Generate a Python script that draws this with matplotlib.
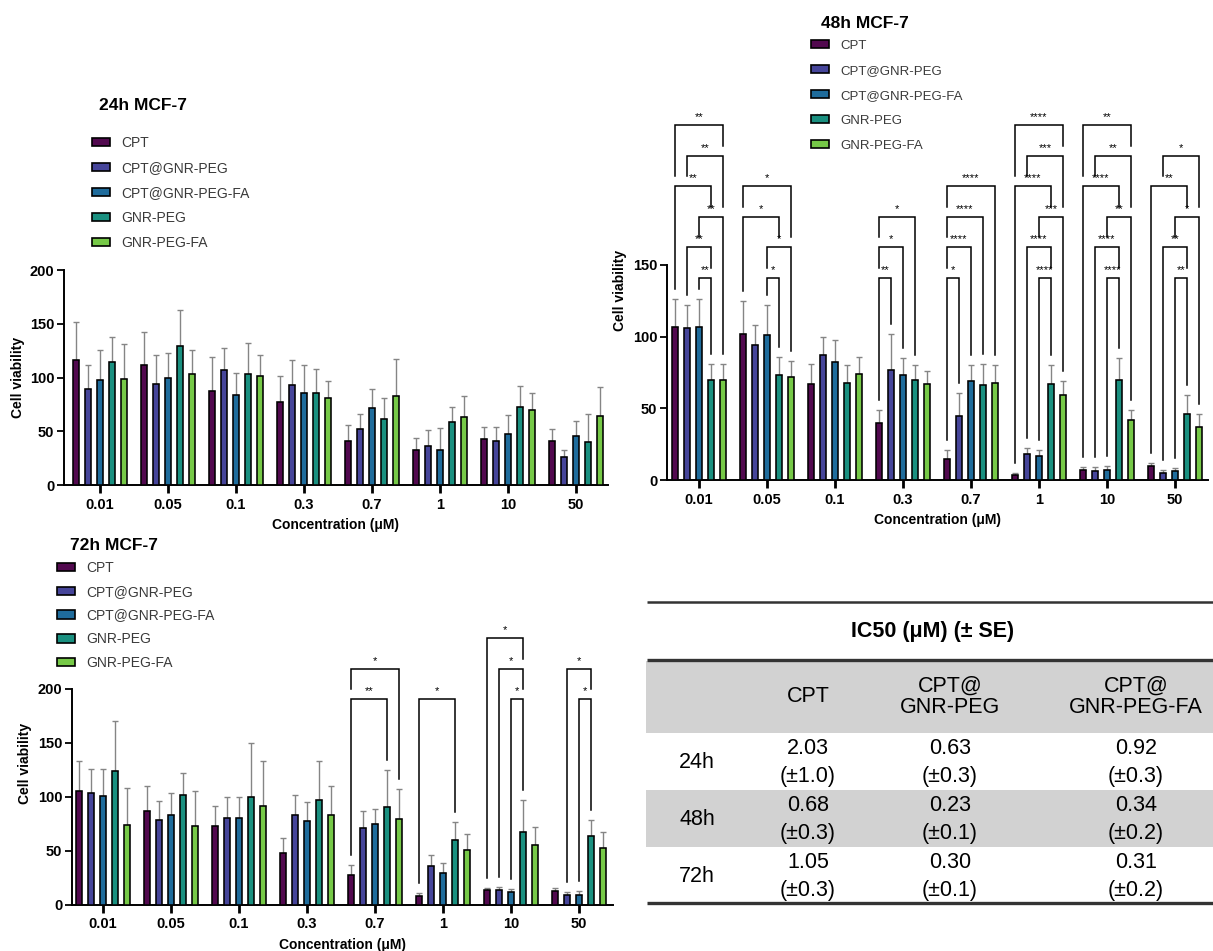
import numpy as np
import matplotlib
matplotlib.use("Agg")
import matplotlib.pyplot as plt
from matplotlib.patches import Patch, Rectangle

# ---------------- data ----------------
concentrations = ['0.01', '0.05', '0.1', '0.3', '0.7', '1', '10', '50']
series = ['CPT', 'CPT@GNR-PEG', 'CPT@GNR-PEG-FA', 'GNR-PEG', 'GNR-PEG-FA']
colors = ['#52094f', '#46459a', '#1f6c9c', '#1a9080', '#76c947']

# 24 h  (mean, SD)
m24_cpt = [116, 112, 87, 77, 41, 33, 43, 41]
s24_cpt = [36, 30, 32, 24, 15, 11, 11, 11]
m24_peg = [89, 94, 107, 93, 52, 36, 41, 26]
s24_peg = [23, 27, 20, 23, 14, 15, 13, 7]
m24_pegfa = [98, 100, 84, 86, 72, 33, 47, 46]
s24_pegfa = [28, 23, 20, 26, 17, 20, 18, 14]
m24_gnr = [114, 129, 103, 86, 61, 59, 73, 40]
s24_gnr = [24, 34, 29, 22, 20, 14, 19, 26]
m24_gnrfa = [99, 103, 101, 81, 83, 63, 70, 64]
s24_gnrfa = [32, 23, 20, 16, 34, 20, 16, 27]

# 48 h
m48_cpt = [107, 102, 67, 40, 15, 3.5, 7, 10]
s48_cpt = [19, 23, 14, 9, 6, 1.5, 2, 2]
m48_peg = [106, 94, 87, 77, 45, 18, 6.5, 5]
s48_peg = [16, 14, 13, 25, 16, 4, 2.5, 2]
m48_pegfa = [107, 101, 82, 73, 69, 17, 7, 6]
s48_pegfa = [19, 21, 16, 12, 11, 4, 2.5, 2.5]
m48_gnr = [70, 73, 68, 70, 66, 67, 70, 46]
s48_gnr = [11, 13, 12, 10, 15, 13, 15, 13]
m48_gnrfa = [70, 72, 74, 67, 68, 59, 42, 37]
s48_gnrfa = [11, 11, 12, 9, 12, 10, 7, 9]

# 72 h
m72_cpt = [106, 87, 73, 48, 28, 8, 14, 13]
s72_cpt = [27, 23, 19, 14, 9, 3, 2, 3]
m72_peg = [104, 79, 81, 83, 71, 36, 14, 9.5]
s72_peg = [22, 17, 19, 19, 16, 10, 3, 3]
m72_pegfa = [101, 83, 81, 78, 75, 30, 12, 9.5]
s72_pegfa = [25, 21, 19, 17, 14, 9, 2.5, 3.5]
m72_gnr = [124, 102, 100, 97, 91, 60, 68, 64]
s72_gnr = [46, 20, 50, 36, 34, 17, 29.5, 15]
m72_gnrfa = [74, 73, 92, 83, 80, 51, 56, 53]
s72_gnrfa = [34, 33, 41, 27, 27, 15, 16, 14.5]

# significance brackets: (concentration index, bar a, bar b, stacking level, label)
sig48 = [
    (0, 0, 4, 6, '**'), (0, 1, 4, 5, '**'), (0, 0, 3, 4, '**'),
    (0, 2, 4, 3, '**'), (0, 1, 3, 2, '**'), (0, 2, 3, 1, '**'),
    (1, 0, 4, 4, '*'), (1, 0, 3, 3, '*'), (1, 2, 4, 2, '*'), (1, 2, 3, 1, '*'),
    (3, 0, 3, 3, '*'), (3, 0, 2, 2, '*'), (3, 0, 1, 1, '**'),
    (4, 0, 4, 4, '****'), (4, 0, 3, 3, '****'), (4, 0, 2, 2, '****'), (4, 0, 1, 1, '*'),
    (5, 0, 4, 6, '****'), (5, 1, 4, 5, '***'), (5, 0, 3, 4, '****'),
    (5, 2, 4, 3, '***'), (5, 1, 3, 2, '****'), (5, 2, 3, 1, '****'),
    (6, 0, 4, 6, '**'), (6, 1, 4, 5, '**'), (6, 0, 3, 4, '****'),
    (6, 2, 4, 3, '**'), (6, 1, 3, 2, '****'), (6, 2, 3, 1, '****'),
    (7, 1, 4, 5, '*'), (7, 0, 3, 4, '**'), (7, 2, 4, 3, '*'),
    (7, 1, 3, 2, '**'), (7, 2, 3, 1, '**'),
]
sig72 = [
    (4, 0, 4, 2, '*'), (4, 0, 3, 1, '**'),
    (5, 0, 3, 1, '*'),
    (6, 0, 3, 3, '*'), (6, 1, 3, 2, '*'), (6, 2, 3, 1, '*'),
    (7, 1, 3, 2, '*'), (7, 2, 3, 1, '*'),
]

# IC50 table
ic50_rows = ['24h', '48h', '72h']
ic50_cols = ['CPT', 'CPT@\nGNR-PEG', 'CPT@\nGNR-PEG-FA']
ic50_cpt = [2.03, 0.68, 1.05]
se_cpt = [1.0, 0.3, 0.3]
ic50_peg = [0.63, 0.23, 0.30]
se_peg = [0.3, 0.1, 0.1]
ic50_pegfa = [0.92, 0.34, 0.31]
se_pegfa = [0.3, 0.2, 0.2]

# ---------------- drawing ----------------
W, H = 1213, 951
plt.rcParams['font.family'] = ['Liberation Sans', 'DejaVu Sans']
fig = plt.figure(figsize=(W / 100, H / 100), dpi=100)

GROUP_PX = 68.0
PITCH = 12.0 / GROUP_PX
BAR_W = 6.8 / GROUP_PX


def px_axes(left, top, right, bottom):
    return fig.add_axes([left / W, 1 - bottom / H, (right - left) / W, (bottom - top) / H])


def draw_panel(ax, means, sds, ymax_axis, ytop, xlim, yticks, ylabelpad):
    x = np.arange(len(concentrations))
    for k, (m, s) in enumerate(zip(means, sds)):
        xs = x + (k - 2) * PITCH
        ax.bar(xs, m, width=BAR_W, color=colors[k], edgecolor='black', linewidth=1.15, zorder=3)
        ax.errorbar(xs, m, yerr=[np.zeros(len(s)), s], fmt='none', ecolor='#858585',
                    elinewidth=1.0, capsize=2.0, capthick=1.0, zorder=2)
    ax.set_xlim(*xlim)
    ax.set_ylim(0, ytop)
    ax.set_xticks(x)
    ax.set_xticklabels(concentrations, fontweight='bold', fontsize=10.5)
    ax.set_yticks(yticks)
    ax.set_yticklabels([str(t) for t in yticks], fontweight='bold', fontsize=10.5)
    for sp in ['top', 'right']:
        ax.spines[sp].set_visible(False)
    ax.spines['left'].set_bounds(0, ymax_axis)
    ax.spines['left'].set_linewidth(1.4)
    ax.spines['bottom'].set_linewidth(1.4)
    ax.tick_params(axis='x', length=6, width=2.0, pad=3)
    ax.tick_params(axis='y', length=5, width=1.3, pad=2)
    ax.set_xlabel('Concentration (\u03bcM)', fontweight='bold', fontsize=10, labelpad=5)
    ax.set_ylabel('Cell viability', fontweight='bold', fontsize=10, labelpad=ylabelpad)
    ax.patch.set_alpha(0)


def draw_sig(ax, sig, means, sds, base, step, px_per_unit):
    gap = 10.0 / px_per_unit
    tops = [np.array(m) + np.array(s) for m, s in zip(means, sds)]
    for (g, a, b, lev, lab) in sig:
        y = base + (lev - 1) * step
        xa = g + (a - 2) * PITCH
        xb = g + (b - 2) * PITCH
        legs = []
        for k in (a, b):
            lower = [base + (l2 - 1) * step for (g2, a2, b2, l2, _) in sig
                     if g2 == g and l2 < lev and a2 <= k <= b2]
            if lower:
                bot = max(lower) + gap
            else:
                bot = tops[k][g] + gap
            legs.append(bot)
        ax.plot([xa, xa, xb, xb], [legs[0], y, y, legs[1]], color='black', lw=1.1,
                solid_joinstyle='miter', zorder=4, clip_on=False)
        ax.text((xa + xb) / 2, y + 3.0 / px_per_unit, lab, ha='center', va='bottom',
                fontsize=8, color='black')


def legend_at(x_left, y_first, fs, spacing_px, text_h):
    handles = [Patch(facecolor=c, edgecolor='black', linewidth=1.2) for c in colors]
    fs_px = fs * 100 / 72
    fig.legend(handles, series, loc='upper left',
               bbox_to_anchor=(x_left / W, 1 - (y_first - 0.45 * fs_px) / H),
               frameon=False, fontsize=fs, borderpad=0, borderaxespad=0,
               handlelength=18 / fs_px, handleheight=0.55, handletextpad=11 / fs_px,
               labelspacing=(spacing_px - text_h * fs_px) / fs_px, labelcolor='#3a3a3a')


# 24h
ax24 = px_axes(64, 270, 608, 485)
means24 = [m24_cpt, m24_peg, m24_pegfa, m24_gnr, m24_gnrfa]
sds24 = [s24_cpt, s24_peg, s24_pegfa, s24_gnr, s24_gnrfa]
draw_panel(ax24, means24, sds24, 200, 200, ((64 - 100) / 68, (608 - 100) / 68),
           [0, 50, 100, 150, 200], 3)
fig.text(99 / W, 1 - 106 / H, '24h MCF-7', fontweight='bold', fontsize=12.5, va='center', ha='left')
legend_at(92, 142, 10, 25, 1.0)

# 48h
ppu48 = 215 / 150.0
ax48 = px_axes(667, 480 - 265 * ppu48, 1208, 480)
means48 = [m48_cpt, m48_peg, m48_pegfa, m48_gnr, m48_gnrfa]
sds48 = [s48_cpt, s48_peg, s48_pegfa, s48_gnr, s48_gnrfa]
draw_panel(ax48, means48, sds48, 150, 265, ((667 - 699) / 68, (1208 - 699) / 68),
           [0, 50, 100, 150], 4)
draw_sig(ax48, sig48, means48, sds48, 141.0, 30.5 / ppu48, ppu48)
fig.text(821 / W, 1 - 23 / H, '48h MCF-7', fontweight='bold', fontsize=12.5, va='center', ha='left')
legend_at(811, 46, 9.5, 25, 0.91)

# 72h
ppu72 = 216 / 200.0
ax72 = px_axes(72, 905 - 262 * ppu72, 613, 905)
means72 = [m72_cpt, m72_peg, m72_pegfa, m72_gnr, m72_gnrfa]
sds72 = [s72_cpt, s72_peg, s72_pegfa, s72_gnr, s72_gnrfa]
draw_panel(ax72, means72, sds72, 200, 262, ((72 - 103) / 68, (613 - 103) / 68),
           [0, 50, 100, 150, 200], 4)
draw_sig(ax72, sig72, means72, sds72, 190.4, 30.5 / ppu72, ppu72)
fig.text(70 / W, 1 - 545 / H, '72h MCF-7', fontweight='bold', fontsize=12.5, va='center', ha='left')
legend_at(57, 567, 10, 23.75, 1.0)

# IC50 table
axt = px_axes(645, 590, 1213, 910)
axt.set_xlim(645, 1213)
axt.set_ylim(910, 590)
axt.axis('off')
gray = '#d2d2d2'
line_c = '#333333'
axt.add_patch(Rectangle((646, 661), 567, 72, facecolor=gray, edgecolor='none'))
axt.add_patch(Rectangle((646, 790), 567, 57, facecolor=gray, edgecolor='none'))
axt.plot([647, 1213], [601.5, 601.5], color=line_c, lw=1.8, solid_capstyle='butt')
axt.plot([647, 1213], [660, 660], color=line_c, lw=2.4, solid_capstyle='butt')
axt.plot([647, 1213], [903, 903], color=line_c, lw=2.4, solid_capstyle='butt')
axt.text(933, 632, 'IC50 (\u03bcM) (\u00b1 SE)', ha='center', va='center', fontsize=15.5,
         fontweight='bold')
col_x = [808, 950, 1136]
row_y = [762, 819, 876]
for cx, lab in zip(col_x, ic50_cols):
    axt.text(cx, 697, lab, ha='center', va='center', fontsize=15.5, linespacing=1.05)
cols_vals = [(ic50_cpt, se_cpt), (ic50_peg, se_peg), (ic50_pegfa, se_pegfa)]
for r, (ry, rl) in enumerate(zip(row_y, ic50_rows)):
    axt.text(697, ry, rl, ha='center', va='center', fontsize=15.5)
    for cx, (vals, ses) in zip(col_x, cols_vals):
        axt.text(cx, ry - 14, f'{vals[r]:.2f}', ha='center', va='center', fontsize=15.5)
        axt.text(cx, ry + 14, f'(\u00b1{ses[r]:.1f})', ha='center', va='center', fontsize=15.5)

fig.savefig('out.png', dpi=100)
